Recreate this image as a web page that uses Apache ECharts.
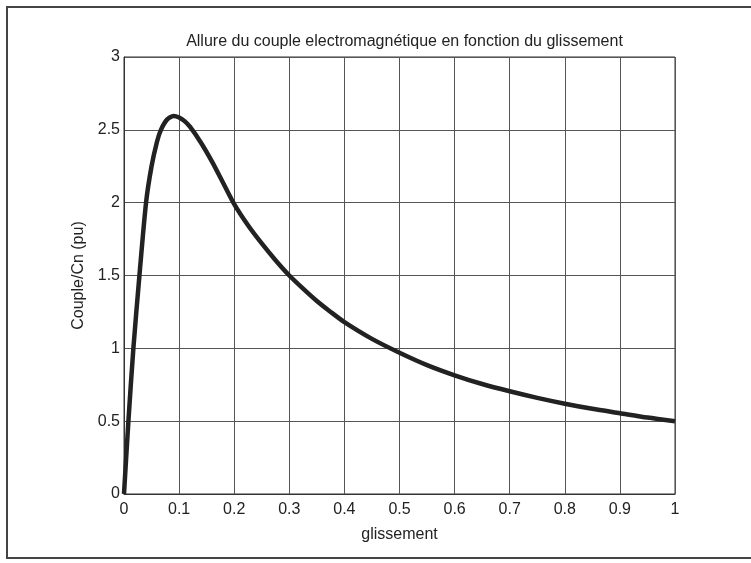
<!DOCTYPE html>
<html>
<head>
<meta charset="utf-8">
<script src="https://cdn.jsdelivr.net/npm/echarts@6/dist/echarts.min.js"></script>
<style>
  html, body { margin: 0; padding: 0; background: #fff; }
  #chart { width: 751px; height: 563px; }
</style>
</head>
<body>
<div id="chart"></div>
<script>
// glissement (slip) and torque / nominal torque
const slip = [0, 0.008, 0.017, 0.028, 0.04, 0.05, 0.06, 0.067, 0.078, 0.09, 0.1, 0.11, 0.12, 0.14, 0.16, 0.18, 0.2, 0.225, 0.25, 0.275, 0.3, 0.325, 0.35, 0.375, 0.4, 0.45, 0.5, 0.55, 0.6, 0.65, 0.7, 0.75, 0.8, 0.85, 0.9, 0.95, 1.0]
const couple = [0, 0.5, 1.0, 1.5, 2.0, 2.25, 2.42, 2.5, 2.57, 2.595, 2.585, 2.56, 2.52, 2.41, 2.28, 2.135, 1.99, 1.845, 1.72, 1.605, 1.5, 1.41, 1.325, 1.25, 1.18, 1.065, 0.97, 0.885, 0.815, 0.755, 0.705, 0.66, 0.62, 0.585, 0.555, 0.525, 0.5]

const font = 'Liberation Sans, Arial, sans-serif'
const chart = echarts.init(document.getElementById('chart'))

chart.setOption({
  animation: false,
  backgroundColor: '#fff',
  title: {
    text: 'Allure du couple electromagnétique en fonction du glissement',
    left: 399.5,
    textAlign: 'center',
    top: 29,
    textStyle: { fontFamily: font, fontSize: 16, fontWeight: 'normal', color: '#222' }
  },
  graphic: [{
    type: 'rect',
    shape: { x: 7, y: 7, width: 800, height: 551 },
    style: { fill: 'none', stroke: '#444', lineWidth: 2 },
    silent: true
  }],
  grid: {
    left: 124, right: 76, top: 57, bottom: 69,
    show: true, borderColor: '#333', borderWidth: 1
  },
  xAxis: {
    type: 'value',
    min: 0, max: 1, interval: 0.1,
    name: 'glissement',
    nameLocation: 'middle',
    nameGap: 33,
    nameTextStyle: { fontFamily: font, fontSize: 16, color: '#222' },
    axisLine: { show: true, lineStyle: { color: '#333' } },
    axisTick: { show: false },
    axisLabel: { fontFamily: font, fontSize: 16, color: '#222', margin: 8 },
    splitLine: { show: true, lineStyle: { color: '#555', width: 1 } }
  },
  yAxis: {
    type: 'value',
    min: 0, max: 3, interval: 0.5,
    name: 'Couple/Cn (pu)',
    nameLocation: 'middle',
    nameGap: 36,
    nameTextStyle: { fontFamily: font, fontSize: 16, color: '#222' },
    axisLine: { show: true, lineStyle: { color: '#333' } },
    axisTick: { show: false },
    axisLabel: { fontFamily: font, fontSize: 16, color: '#222', margin: 4 },
    splitLine: { show: true, lineStyle: { color: '#555', width: 1 } }
  },
  series: [{
    type: 'line',
    data: slip.map((s, i) => [s, couple[i]]),
    showSymbol: false,
    smooth: 0.25,
    lineStyle: { color: '#222', width: 4.5 }
  }]
})
</script>
</body>
</html>
